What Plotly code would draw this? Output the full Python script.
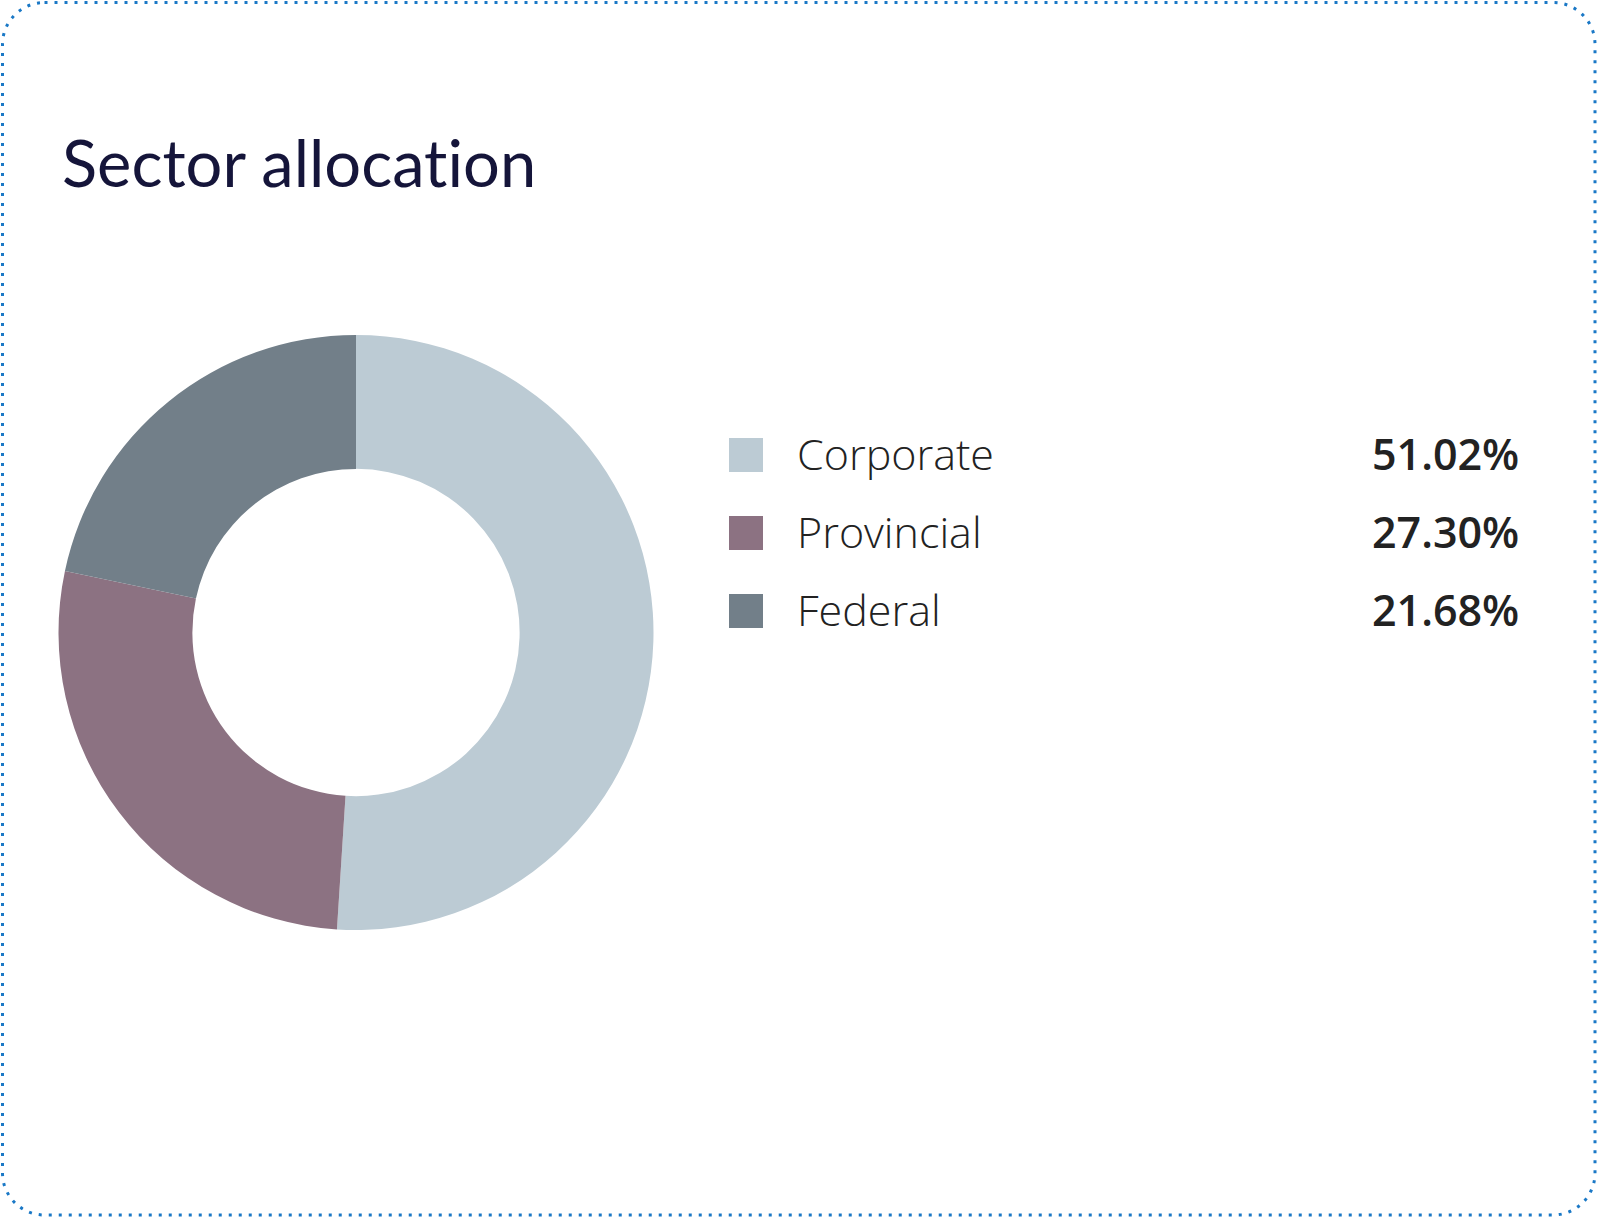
import plotly.graph_objects as go

# sector allocation data
sectors = ["Corporate", "Provincial", "Federal"]
weights = [51.02, 27.30, 21.68]
colours = ["#bccbd4", "#8c7282", "#727f89"]

W, H = 1597, 1217

fig = go.Figure()

# donut
cx, cy, r = 356, 632.5, 297.5
fig.add_trace(
    go.Pie(
        labels=sectors,
        values=weights,
        marker=dict(colors=colours, line=dict(width=0)),
        hole=0.55,
        sort=False,
        direction="clockwise",
        rotation=0,
        textinfo="none",
        hoverinfo="label+percent",
        showlegend=False,
        domain=dict(x=[(cx - r) / W, (cx + r) / W], y=[(H - cy - r) / H, (H - cy + r) / H]),
    )
)

# legend squares, one row per sector
fig.add_trace(
    go.Scatter(
        x=[0] * len(sectors),
        y=sectors,
        mode="markers",
        marker=dict(symbol="square", size=34, color=colours, line=dict(width=0)),
        hoverinfo="skip",
        showlegend=False,
        xaxis="x",
        yaxis="y",
    )
)

for name, w in zip(sectors, weights):
    fig.add_annotation(
        x=49, y=name, xref="x", yref="y", text=name, showarrow=False,
        xanchor="left", yanchor="middle", yshift=2,
        font=dict(family="Open Sans", size=43, color="#222222", weight=300),
    )
    fig.add_annotation(
        x=775, y=name, xref="x", yref="y", text=f"{w:.2f}%", showarrow=False,
        xanchor="right", yanchor="middle", yshift=2,
        font=dict(family="Open Sans", size=43, color="#222222", weight=600),
    )

# title (zero-width non-joiner keeps Lato from using its "ti" ligature)
fig.add_annotation(
    x=60, y=162, xref="x2", yref="y2", text="Sector allocat\u200cion", showarrow=False,
    xanchor="left", yanchor="middle",
    font=dict(family="Lato", size=65, color="#15153a"),
)

# dotted rounded frame
x0, y0, x1, y1, rad = 2.5, 2.5, 1595, 1215, 42
k = rad * 0.448
frame = (
    f"M {x0 + rad},{y0} L {x1 - rad},{y0} "
    f"C {x1 - k},{y0} {x1},{y0 + k} {x1},{y0 + rad} "
    f"L {x1},{y1 - rad} "
    f"C {x1},{y1 - k} {x1 - k},{y1} {x1 - rad},{y1} "
    f"L {x0 + rad},{y1} "
    f"C {x0 + k},{y1} {x0},{y1 - k} {x0},{y1 - rad} "
    f"L {x0},{y0 + rad} "
    f"C {x0},{y0 + k} {x0 + k},{y0} {x0 + rad},{y0} Z"
)
fig.add_shape(
    type="path", path=frame, xref="x2", yref="y2",
    line=dict(color="#1a78c6", width=3, dash="3px,7px"),
)

# legend rows: first row centre at 455px, 78px apart
row0, step = 455, 78
fig.update_layout(
    width=W,
    height=H,
    margin=dict(l=0, r=0, t=0, b=0),
    paper_bgcolor="white",
    plot_bgcolor="rgba(0,0,0,0)",
    xaxis=dict(range=[-746, W - 746], visible=False, fixedrange=True),
    yaxis=dict(
        range=[(H - row0) / step, -row0 / step],
        visible=False, fixedrange=True,
    ),
    xaxis2=dict(range=[0, W], visible=False, overlaying="x", fixedrange=True),
    yaxis2=dict(range=[H, 0], visible=False, overlaying="y", fixedrange=True),
)

fig.write_html(
    "out.html",
    config={"displayModeBar": False},
    post_script="document.body.style.margin='0';",
)
